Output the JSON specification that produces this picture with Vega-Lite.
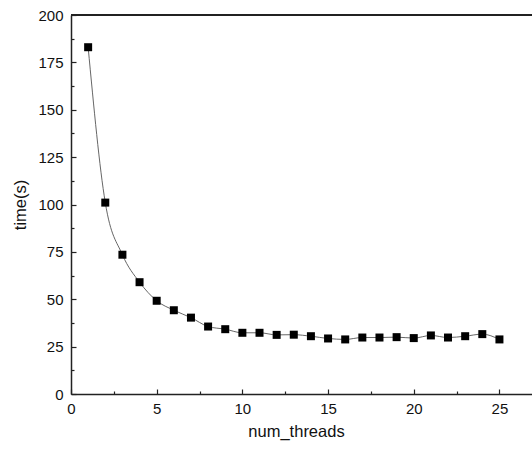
{
  "$schema": "https://vega.github.io/schema/vega-lite/v6.json",
  "width": 461,
  "height": 379,
  "autosize": {"type": "none"},
  "padding": {"left": 71, "top": 15, "right": 0, "bottom": 56},
  "background": "white",
  "data": {
    "values": [
      {"num_threads": 1, "time": 183.0},
      {"num_threads": 2, "time": 101.0},
      {"num_threads": 3, "time": 73.5},
      {"num_threads": 4, "time": 59.0},
      {"num_threads": 5, "time": 49.2},
      {"num_threads": 6, "time": 44.2},
      {"num_threads": 7, "time": 40.3},
      {"num_threads": 8, "time": 35.6},
      {"num_threads": 9, "time": 34.2},
      {"num_threads": 10, "time": 32.3},
      {"num_threads": 11, "time": 32.3},
      {"num_threads": 12, "time": 31.2},
      {"num_threads": 13, "time": 31.3},
      {"num_threads": 14, "time": 30.5},
      {"num_threads": 15, "time": 29.3},
      {"num_threads": 16, "time": 28.8},
      {"num_threads": 17, "time": 29.8},
      {"num_threads": 18, "time": 29.8},
      {"num_threads": 19, "time": 30.0},
      {"num_threads": 20, "time": 29.5},
      {"num_threads": 21, "time": 30.9},
      {"num_threads": 22, "time": 29.8},
      {"num_threads": 23, "time": 30.5},
      {"num_threads": 24, "time": 31.6},
      {"num_threads": 25, "time": 28.8}
    ]
  },
  "encoding": {
    "x": {
      "field": "num_threads",
      "type": "quantitative",
      "scale": {"domain": [0, 26.9], "nice": false, "zero": false},
      "axis": {
        "title": "num_threads",
        "values": [0, 2.5, 5, 7.5, 10, 12.5, 15, 17.5, 20, 22.5, 25],
        "labelExpr": "datum.value % 5 === 0 ? datum.label : ''",
        "tickSize": {"condition": {"test": "datum.value % 5 !== 0", "value": -3}, "value": -5},
        "labelPadding": 12,
        "grid": false,
        "domainColor": "#222",
        "domainWidth": 1.5,
        "tickColor": "#222",
        "tickWidth": 1.2,
        "labelFont": "Liberation Sans",
        "labelFontSize": 15,
        "labelColor": "#111",
        "labelFlush": false,
        "titleFont": "Liberation Sans",
        "titleFontSize": 16.5,
        "titleFontWeight": "normal",
        "titleColor": "#111",
        "titlePadding": 7,
        "titleX": 225
      }
    },
    "y": {
      "field": "time",
      "type": "quantitative",
      "scale": {"domain": [0, 200], "nice": false},
      "axis": {
        "title": "time(s)",
        "values": [0, 12.5, 25, 37.5, 50, 62.5, 75, 87.5, 100, 112.5, 125, 137.5, 150, 162.5, 175, 187.5, 200],
        "labelExpr": "datum.value % 25 === 0 ? datum.label : ''",
        "tickSize": {"condition": {"test": "datum.value % 25 !== 0", "value": -3}, "value": -5},
        "labelPadding": 13,
        "grid": false,
        "domainColor": "#222",
        "domainWidth": 1.5,
        "tickColor": "#222",
        "tickWidth": 1.2,
        "labelFont": "Liberation Sans",
        "labelFontSize": 15,
        "labelColor": "#111",
        "labelFlush": false,
        "titleFont": "Liberation Sans",
        "titleFontSize": 16.5,
        "titleFontWeight": "normal",
        "titleColor": "#111",
        "titlePadding": 9
      }
    }
  },
  "layer": [
    {
      "mark": {"type": "rule", "color": "#222", "strokeWidth": 1.5},
      "encoding": {"y": {"datum": 200}, "x": null}
    },
    {
      "mark": {"type": "line", "color": "#555", "strokeWidth": 0.9, "interpolate": "monotone"}
    },
    {
      "mark": {"type": "point", "shape": "square", "filled": true, "color": "black", "opacity": 1, "size": 64}
    }
  ],
  "config": {
    "view": {"stroke": null}
  }
}
